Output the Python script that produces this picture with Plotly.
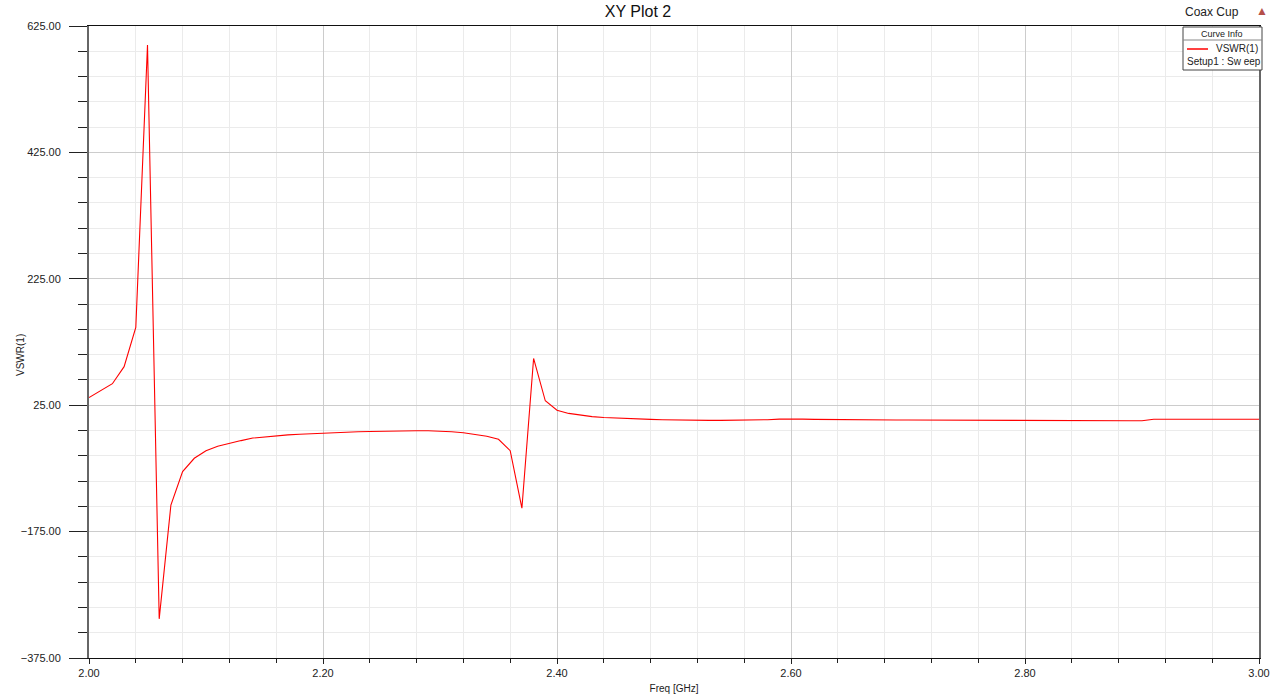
import plotly.graph_objects as go

# ---- data ----
freq_ghz = [
    2.00, 2.01, 2.02, 2.03, 2.04, 2.05, 2.06, 2.07, 2.08, 2.09,
    2.10, 2.11, 2.12, 2.13, 2.14, 2.15, 2.16, 2.17, 2.18, 2.19,
    2.20, 2.21, 2.22, 2.23, 2.24, 2.25, 2.26, 2.27, 2.28, 2.29,
    2.30, 2.31, 2.32, 2.33, 2.34, 2.35, 2.36, 2.37, 2.38, 2.39,
    2.40, 2.41, 2.42, 2.43, 2.44, 2.45, 2.46, 2.47, 2.48, 2.49,
    2.50, 2.51, 2.52, 2.53, 2.54, 2.55, 2.56, 2.57, 2.58, 2.59,
    2.60, 2.61, 2.62, 2.63, 2.64, 2.65, 2.66, 2.67, 2.68, 2.69,
    2.70, 2.71, 2.72, 2.73, 2.74, 2.75, 2.76, 2.77, 2.78, 2.79,
    2.80, 2.81, 2.82, 2.83, 2.84, 2.85, 2.86, 2.87, 2.88, 2.89,
    2.90, 2.91, 2.92, 2.93, 2.94, 2.95, 2.96, 2.97, 2.98, 2.99,
    3.00,
]
vswr = [
    37, 48, 59, 86, 148, 595, -313, -133, -80, -59,
    -47, -40, -35, -31, -27, -25, -23.5, -22, -21, -20,
    -19, -18, -17.5, -17, -16.5, -16, -15.5, -15.5, -15.5, -15.5,
    -16, -17, -18.5, -21, -24, -29, -47, -138, 99, 32,
    17, 12, 9, 7, 5.5, 4.5, 3.5, 3, 2.5, 2,
    1.5, 1, 1, 1, 1, 1, 1.5, 1.5, 2, 3,
    3.5, 3, 2.5, 2.2, 2, 2, 2, 1.8, 1.6, 1.5,
    1.5, 1.4, 1.3, 1.2, 1.2, 1.2, 1.1, 1.1, 1.0, 1.0,
    1.0, 1.0, 0.8, 0.7, 0.6, 0.6, 0.5, 0.5, 0.5, 0.5,
    0.5, 2.7, 2.7, 2.7, 2.7, 2.7, 2.7, 2.7, 2.7, 2.7,
    2.7,
]
x_range = [2.0, 3.0]
y_range = [-375, 625]
trace_name = "VSWR(1)"
sweep_name = "Setup1 : Sw eep"

FONT = "Liberation Sans, Arial, sans-serif"
W, H = 1280, 696

fig = go.Figure()
fig.add_trace(go.Scatter(
    x=freq_ghz, y=vswr, mode="lines", name=trace_name,
    line=dict(color="#ff0000", width=1.1), showlegend=False,
))

# plot area in page pixels: left 89, right 1259, top 26, bottom 658
L, R, T, B = 89, 1259, 26, 658
def px(xp):
    return (xp - L) / (R - L)
def py(yp):
    return (B - yp) / (B - T)

fig.update_layout(
    width=W, height=H, autosize=False,
    margin=dict(l=L, r=W - R, t=T, b=H - B, pad=0),
    paper_bgcolor="white", plot_bgcolor="white",
    font=dict(family=FONT, size=11, color="#222222"),
    title=dict(text="XY Plot 2", x=638 / W, xanchor="center",
               y=1 - 11 / H, yanchor="middle",
               font=dict(family=FONT, size=16, color="#111111")),
    xaxis=dict(
        range=x_range, tick0=2.0, dtick=0.2, tickformat=".2f",
        ticks="outside", ticklen=5, tickcolor="#222222", tickwidth=1,
        showline=True, linecolor="#111111", linewidth=1, mirror=True,
        showgrid=True, gridcolor="#cccccc", gridwidth=1, zeroline=False,
        minor=dict(tick0=2.0, dtick=0.04, ticks="outside", ticklen=4,
                   tickcolor="#222222", showgrid=True, gridcolor="#ebebeb"),
        tickfont=dict(size=11, color="#222222"),
        automargin=False,
        title=dict(text="Freq [GHz]", font=dict(size=10, color="#222222"),
                   standoff=6),
    ),
    yaxis=dict(
        range=y_range, tick0=25, dtick=200, tickformat=".2f",
        ticks="outside", ticklen=18, tickcolor="#222222", tickwidth=1,
        showline=True, linecolor="#666666", linewidth=2, mirror=True,
        showgrid=True, gridcolor="#cccccc", gridwidth=1, zeroline=False,
        minor=dict(tick0=25, dtick=40, ticks="outside", ticklen=9,
                   tickcolor="#222222", showgrid=True, gridcolor="#ebebeb"),
        tickfont=dict(size=11, color="#222222"),
        ticklabelstandoff=6,
        automargin=False,
    ),
)

# "Curve Info" box (legend) drawn in paper coordinates
shapes = [
    dict(type="rect", xref="paper", yref="paper",
         x0=px(1183), x1=px(1262), y0=py(70), y1=py(27),
         line=dict(color="#444444", width=1), fillcolor="white", layer="above"),
    dict(type="line", xref="paper", yref="paper",
         x0=px(1183), x1=px(1262), y0=py(40), y1=py(40),
         line=dict(color="#888888", width=1), layer="above"),
    dict(type="line", xref="paper", yref="paper",
         x0=px(1187), x1=px(1208), y0=py(49), y1=py(49),
         line=dict(color="#ff0000", width=1.5), layer="above"),
]
annotations = [
    dict(text="VSWR(1)", xref="paper", yref="paper", x=px(20), y=py(355),
         xanchor="center", yanchor="middle", textangle=-90, showarrow=False,
         font=dict(size=10, color="#222222")),
    dict(text="Curve Info", xref="paper", yref="paper", x=px(1222), y=py(34),
         xanchor="center", yanchor="middle", showarrow=False,
         font=dict(size=9, color="#222222")),
    dict(text=trace_name, xref="paper", yref="paper", x=px(1214), y=py(49),
         xanchor="left", yanchor="middle", showarrow=False,
         font=dict(size=10, color="#222222")),
    dict(text=sweep_name, xref="paper", yref="paper", x=px(1185), y=py(62),
         xanchor="left", yanchor="middle", showarrow=False,
         font=dict(size=10, color="#222222")),
    dict(text="Coax Cup", xref="paper", yref="paper", x=px(1241), y=py(12),
         xanchor="right", yanchor="middle", showarrow=False,
         font=dict(size=12, color="#222222")),
    dict(text="\u25B2", xref="paper", yref="paper", x=px(1262), y=py(11),
         xanchor="center", yanchor="middle", showarrow=False,
         font=dict(size=12, color="#b5504a")),
]
fig.update_layout(shapes=shapes, annotations=annotations)

# remove the default 8px page margin so the figure sits at (0, 0)
fig.write_html(
    "out.html",
    config={"displayModeBar": False},
    post_script="document.body.style.margin='0';document.body.style.overflow='hidden';",
)
